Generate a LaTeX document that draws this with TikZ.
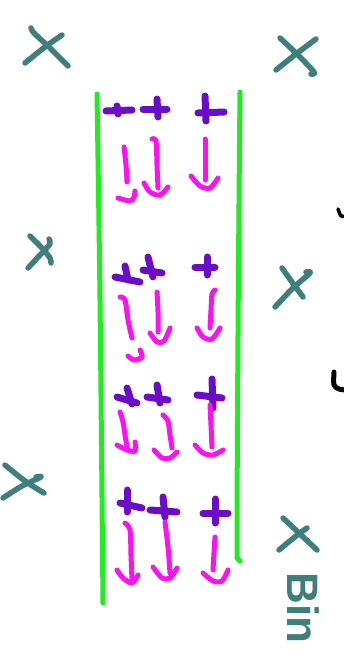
\documentclass[tikz,border=0pt]{standalone}
\usepackage{fontspec}
\setmainfont{Liberation Sans}
\definecolor{tealc}{HTML}{3F7F7B}
\definecolor{grnc}{HTML}{1EEE1E}
\definecolor{purc}{HTML}{6A0CCA}
\definecolor{magc}{HTML}{FF10F0}
\begin{document}
\begin{tikzpicture}[x=1pt,y=-1pt,line cap=round,line join=round,
  crossst/.style={draw=tealc,line width=5.5pt},
  wallst/.style={draw=grnc,line width=5pt},
  plusst/.style={draw=purc,line width=7pt},
  arrst/.style={draw=magc,line width=5pt},
  inkst/.style={draw=black,line width=5pt}]
\useasboundingbox[fill=white] (0,0) rectangle (344,656);
% teal crosses
\draw[crossst] plot[smooth] coordinates {(31,28) (34,33) (50,48) (68,66)};
\draw[crossst] plot[smooth] coordinates {(25,63) (45,47) (62,35)};
\draw[crossst] plot[smooth] coordinates {(280,38) (298,55) (314,72) (311,74)};
\draw[crossst] plot[smooth] coordinates {(276,70) (296,54) (316,39)};
\draw[crossst] plot[smooth] coordinates {(30,236) (42,248) (50,258) (51,263)};
\draw[crossst] plot[smooth] coordinates {(28,268) (40,255) (50,244) (49,239)};
\draw[crossst] plot[smooth] coordinates {(282,268) (292,282) (303,297)};
\draw[crossst] plot[smooth] coordinates {(275,307) (293,288) (310,273) (306,272)};
\draw[crossst] plot[smooth] coordinates {(5,465) (25,481) (44,493)};
\draw[crossst] plot[smooth] coordinates {(3,498) (22,486) (41,477) (36,477)};
\draw[crossst] plot[smooth] coordinates {(283,518) (300,534) (317,550)};
\draw[crossst] plot[smooth] coordinates {(279,550) (296,536) (307,528)};
\node[text=tealc,rotate=-90,font=\fontsize{44}{48}\selectfont\bfseries,inner sep=0pt] (bin) at (303,608) {Bin};
% green walls
\draw[wallst] plot[smooth] coordinates {(97,94) (100,300) (103,603)};
\draw[wallst] (240,92) .. controls (238,300) and (237,480) .. (237,558) -- (240,561);
% black ink on right edge
\draw[inkst,line width=3.5pt] plot[smooth] coordinates {(338,209) (341,216) (345,216)};
\draw[inkst] plot[smooth] coordinates {(334,372) (334,385) (339,389) (346,390)};
% group 1
\draw[plusst] (106,111) -- (132,110);
\draw[plusst] (117,106) -- (118,114);
\draw[plusst] (143,109) -- (167,109);
\draw[plusst] (157,99) -- (158,117);
\draw[plusst] (198,113) -- (224,112);
\draw[plusst] (205,96) -- (206,121);
\draw[arrst] plot[smooth] coordinates {(124,147) (126,165) (127,182)};
\draw[arrst] plot[smooth] coordinates {(118,198) (130,201) (134,197) (135,191)};
\draw[arrst] plot[smooth] coordinates {(152,139) (156,141) (157,165) (158,188)};
\draw[arrst] plot[smooth] coordinates {(144,183) (150,192) (160,195) (168,187)};
\draw[arrst] (205,139) -- (205,180);
\draw[arrst] plot[smooth] coordinates {(191,176) (200,186) (210,188) (218,178)};
% group 2
\draw[plusst] (115,277) -- (140,282);
\draw[plusst] (125,266) -- (128,280);
\draw[plusst] (143,270) -- (162,273);
\draw[plusst] (148,257) -- (153,277);
\draw[plusst] (195,267) -- (215,267);
\draw[plusst] (207,257) -- (207,275);
\draw[arrst] plot[smooth] coordinates {(120,297) (125,300) (128,320) (132,338)};
\draw[arrst] plot[smooth] coordinates {(128,356) (134,360) (142,357) (140,350)};
\draw[arrst] plot[smooth] coordinates {(157,292) (158,312) (158,332)};
\draw[arrst] plot[smooth] coordinates {(150,333) (157,342) (164,341) (170,328)};
\draw[arrst] plot[smooth] coordinates {(215,290) (212,294) (211,310) (210,328)};
\draw[arrst] plot[smooth] coordinates {(197,328) (203,337) (212,339) (220,328)};
% group 3
\draw[plusst] (117,397) -- (137,403);
\draw[plusst] (127,388) -- (132,404);
\draw[plusst] (147,397) -- (168,400);
\draw[plusst] (157,385) -- (160,403);
\draw[plusst] (197,395) -- (222,398);
\draw[plusst] (212,379) -- (213,408);
\draw[arrst] plot[smooth] coordinates {(120,412) (123,422) (125,435) (127,447)};
\draw[arrst] plot[smooth] coordinates {(117,445) (127,450) (135,451) (135,442)};
\draw[arrst] plot[smooth] coordinates {(163,415) (168,421) (170,435) (172,448)};
\draw[arrst] plot[smooth] coordinates {(154,450) (162,458) (170,458) (177,452)};
\draw[arrst] plot[smooth] coordinates {(210,405) (211,425) (212,447)};
\draw[arrst] plot[smooth] coordinates {(195,445) (203,453) (213,455) (223,450)};
% group 4
\draw[plusst] (127,490) -- (127,512);
\draw[plusst] (120,503) -- (142,508);
\draw[plusst] (163,497) -- (165,517);
\draw[plusst] (150,510) -- (177,512);
\draw[plusst] (215,499) -- (215,523);
\draw[plusst] (203,513) -- (228,513);
\draw[arrst] plot[smooth] coordinates {(125,523) (130,530) (131,555) (132,580)};
\draw[arrst] plot[smooth] coordinates {(117,570) (123,578) (132,583) (138,575)};
\draw[arrst] plot[smooth] coordinates {(165,522) (168,547) (170,573)};
\draw[arrst] plot[smooth] coordinates {(153,567) (162,578) (170,578) (177,568)};
\draw[arrst] plot[smooth] coordinates {(215,537) (214,553) (213,570)};
\draw[arrst] plot[smooth] coordinates {(203,573) (213,581) (222,581) (228,570)};
\end{tikzpicture}
\end{document}
